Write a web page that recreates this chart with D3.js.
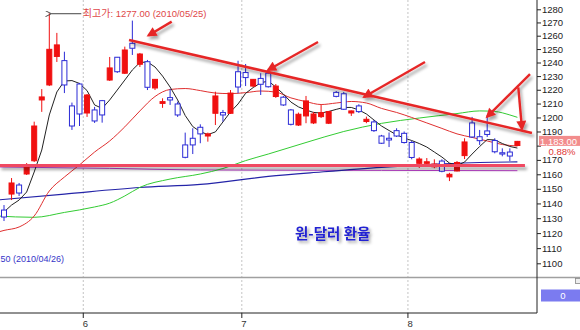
<!DOCTYPE html>
<html>
<head>
<meta charset="utf-8">
<script src="https://cdn.jsdelivr.net/npm/d3@7"></script>
<style>
body { margin: 0; background: #fff; }
svg { display: block; font-family: "Liberation Sans", Arial, "Noto Sans CJK KR", sans-serif; }
</style>
</head>
<body>
<div id="vis"></div>
<script>
// frame constants
const FRAME_WIDTH = 580;
const FRAME_HEIGHT = 330;
const AXIS_X = 537;
const PANEL_BOTTOM = 277.5;
const SUB_BOTTOM = 313;

// trading days
const dates = [
  "2010-05-14","2010-05-17","2010-05-18","2010-05-19","2010-05-20","2010-05-24","2010-05-25",
  "2010-05-26","2010-05-27","2010-05-28","2010-05-31",
  "2010-06-01","2010-06-03","2010-06-04","2010-06-07","2010-06-08","2010-06-09","2010-06-10",
  "2010-06-11","2010-06-14","2010-06-15","2010-06-16","2010-06-17","2010-06-18","2010-06-21",
  "2010-06-22","2010-06-23","2010-06-24","2010-06-25","2010-06-28","2010-06-29","2010-06-30",
  "2010-07-01","2010-07-02","2010-07-05","2010-07-06","2010-07-07","2010-07-08","2010-07-09",
  "2010-07-12","2010-07-13","2010-07-14","2010-07-15","2010-07-16","2010-07-19","2010-07-20",
  "2010-07-21","2010-07-22","2010-07-23","2010-07-26","2010-07-27","2010-07-28","2010-07-29",
  "2010-07-30",
  "2010-08-02","2010-08-03","2010-08-04","2010-08-05","2010-08-06","2010-08-09","2010-08-10",
  "2010-08-11","2010-08-12","2010-08-13","2010-08-16","2010-08-17","2010-08-18","2010-08-19",
  "2010-08-20"
];

// daily prices (won per dollar)
const open = [1135.5,1146.4,1152.6,1160.2,1169.4,1212.6,1223.5,1244.5,1241.4,1208.3,
  1224.2,1203.2,1205.4,1212.1,1227.1,1243.9,1232.1,1254.3,1238.7,1240.6,
  1221.3,1210.1,1214.3,1209.7,1180.5,1185.2,1193.0,1186.8,1203.0,1203.5,
  1203.0,1233.2,1232.6,1222.7,1228.3,1232.1,1215.1,1214.6,1205.4,1194.6,
  1201.1,1196.1,1200.6,1195.9,1218.1,1217.1,1203.2,1208.3,1197.1,1196.8,
  1186.8,1185.2,1190.6,1188.7,1182.2,1167.6,1167.6,1165.2,1169.2,1158.2,
  1162.3,1173.0,1196.1,1186.3,1190.4,1183.6,1175.0,1175.5,1180.1];
const high = [1138.9,1157.4,1154.0,1167.8,1197.0,1220.5,1277.0,1262.1,1248.0,1210.7,
  1225.0,1216.9,1207.6,1212.6,1244.1,1244.1,1251.8,1271.4,1247.1,1241.9,
  1227.8,1213.8,1220.5,1211.4,1189.2,1192.3,1195.1,1189.2,1218.6,1205.4,
  1219.8,1241.3,1238.9,1227.8,1232.1,1233.8,1224.2,1215.5,1206.1,1203.5,
  1215.5,1204.0,1209.0,1204.7,1219.1,1218.4,1205.0,1209.5,1200.6,1198.2,
  1187.6,1189.3,1192.3,1190.0,1183.3,1171.8,1171.3,1170.4,1170.4,1161.0,
  1169.2,1185.2,1200.4,1191.1,1200.8,1185.2,1178.1,1178.1,1183.3];
const low = [1128.1,1142.3,1145.1,1159.5,1168.5,1204.0,1222.7,1240.4,1217.6,1191.1,
  1193.9,1200.4,1196.1,1196.3,1226.4,1232.3,1231.5,1245.6,1236.7,1219.8,
  1219.8,1206.9,1209.0,1200.4,1171.1,1174.1,1181.7,1182.8,1194.6,1197.0,
  1202.5,1217.5,1222.7,1222.0,1216.2,1221.6,1214.1,1208.3,1194.3,1193.9,
  1195.9,1195.3,1199.6,1195.3,1214.5,1205.4,1201.1,1203.2,1195.9,1189.7,
  1181.2,1179.0,1186.1,1181.5,1170.4,1164.4,1166.5,1164.2,1161.4,1155.3,
  1162.0,1170.6,1185.4,1180.5,1186.1,1174.6,1172.5,1169.2,1179.7];
const close = [1130.8,1154.0,1147.1,1165.1,1193.9,1214.8,1249.8,1253.1,1223.5,1193.9,
  1202.5,1216.2,1197.5,1201.8,1236.0,1233.2,1249.3,1250.6,1246.3,1221.8,
  1227.6,1211.4,1212.6,1201.8,1171.8,1180.5,1188.3,1188.3,1215.5,1201.8,
  1217.6,1222.0,1228.9,1227.6,1224.0,1222.2,1222.7,1209.0,1195.1,1202.3,
  1211.9,1202.5,1203.5,1204.2,1215.2,1205.9,1204.7,1204.2,1198.7,1190.6,
  1181.7,1184.0,1186.8,1182.2,1171.7,1170.6,1168.7,1167.1,1162.1,1160.0,
  1168.2,1182.6,1186.1,1183.5,1187.9,1175.7,1174.1,1172.7,1183.0];

// moving averages
const ma5 = [1134.2,1138.9,1142.3,1147.8,1161.6,1176.9,1201.8,1218.4,1226.4,1226.7,
  1224.6,1219.4,1209.0,1206.5,1212.6,1219.8,1227.1,1234.5,1240.0,1240.4,
  1236.7,1230.0,1222.0,1212.6,1201.4,1193.5,1189.9,1187.8,1189.7,1196.8,
  1204.0,1209.7,1217.4,1221.6,1225.0,1226.4,1222.0,1216.9,1211.1,1207.6,
  1205.4,1203.6,1203.2,1204.3,1205.8,1207.2,1207.2,1205.4,1202.5,1198.2,
  1193.9,1190.7,1187.6,1185.4,1183.6,1181.5,1179.0,1175.5,1172.0,1167.8,
  1166.1,1168.5,1174.1,1179.4,1184.3,1184.0,1181.5,1179.4,1178.3];
// [day index, value]
const ma20 = [[-1,1120.4],[0,1121.8],[2,1124.1],[4,1131.5],[6,1148.5],[8,1158.1],[10,1166.5],
  [12,1175.5],[14,1183.3],[16,1193.3],[18,1204.7],[20,1215.1],[22,1220.2],[24,1220.9],
  [26,1219.4],[28,1217.6],[30,1217.2],[32,1217.9],[34,1219.1],[36,1218.3],[38,1214.1],
  [40,1211.4],[42,1209.3],[44,1210.4],[46,1211.5],[48,1210.4],[50,1206.5],[52,1203.6],
  [54,1200.0],[56,1196.1],[58,1192.2],[60,1188.3],[62,1185.8],[64,1183.3],[66,1180.8],
  [68,1179.7]];
const ma60 = [[-1,1131.5],[4,1130.6],[8,1133.9],[12,1137.6],[14,1140.2],[16,1145.1],
  [18,1151.0],[22,1156.7],[26,1160.2],[29,1164.0],[32,1169.5],[35,1174.1],[40,1182.2],
  [45,1190.0],[50,1195.8],[55,1199.6],[60,1202.8],[63,1204.7],[65,1204.3],[67,1201.8],
  [68,1200.1]];
const ma120 = [[-1,1142.3],[8,1146.4],[18,1150.9],[26,1153.0],[35,1158.5],[42,1161.6],
  [50,1164.8],[58,1167.2],[63,1168.2],[68,1168.6]];
const ma240 = [[-1,1165.1],[14,1164.1],[26,1163.0],[50,1162.7],[68,1162.5]];

// y axis ticks
const yTicks = [1100,1110,1120,1130,1140,1150,1160,1170,1180,1190,1200,
  1210,1220,1230,1240,1250,1260,1270,1280];

// hand drawn lines: [day index, value]
const supportLine = [[-0.6,1166.1],[69.0,1166.1]];
const trendLine = [[16.56,1256.8],[69.93,1189.0]];
const arrows = [
  [[22.21,1270.6],[19.11,1260.1]],
  [[41.59,1255.3],[34.97,1234.5]],
  [[55.76,1240.4],[47.68,1214.8]],
  [[69.67,1231.5],[63.97,1200.4]],
  [[68.12,1221.8],[68.61,1191.8]]
];
const lowPrice = 1104.50, lowDate = "2010/04/26";
const changePct = "0.88%";

// frame
const svg = d3.select("#vis").append("svg")
  .attr("width", FRAME_WIDTH)
  .attr("height", FRAME_HEIGHT);

const defs = svg.append("defs");
defs.append("clipPath").attr("id", "plot")
  .append("rect").attr("x", 0).attr("y", 0)
  .attr("width", AXIS_X).attr("height", PANEL_BOTTOM);
const shadow = defs.append("filter").attr("id", "shadow")
  .attr("filterUnits", "userSpaceOnUse")
  .attr("x", 0).attr("y", 0).attr("width", FRAME_WIDTH).attr("height", FRAME_HEIGHT);
shadow.append("feDropShadow").attr("dx", 2).attr("dy", 3)
  .attr("stdDeviation", 1.6).attr("flood-color", "#000").attr("flood-opacity", 0.35);
const textShadow = defs.append("filter").attr("id", "tshadow")
  .attr("filterUnits", "userSpaceOnUse")
  .attr("x", 0).attr("y", 0).attr("width", FRAME_WIDTH).attr("height", FRAME_HEIGHT);
textShadow.append("feDropShadow").attr("dx", 2).attr("dy", 2)
  .attr("stdDeviation", 1.5).attr("flood-color", "#000").attr("flood-opacity", 0.4);
defs.append("marker").attr("id", "head")
  .attr("markerUnits", "userSpaceOnUse")
  .attr("viewBox", "0 0 10 10")
  .attr("markerWidth", 11).attr("markerHeight", 10)
  .attr("refX", 8).attr("refY", 5)
  .attr("orient", "auto")
  .append("path").attr("d", "M0,0L10,5L0,10z").attr("fill", "#e62828");
defs.append("marker").attr("id", "grayhead")
  .attr("markerUnits", "userSpaceOnUse")
  .attr("viewBox", "0 0 10 10")
  .attr("markerWidth", 6).attr("markerHeight", 6)
  .attr("refX", 1).attr("refY", 5)
  .attr("orient", "auto")
  .append("path").attr("d", "M10,0L0,5L10,10").attr("fill", "none").attr("stroke", "#444").attr("stroke-width", 1.6);

// scales
const X_SCALE = d3.scaleLinear()
  .domain([0, dates.length - 1])
  .range([4, 517.4]);
const Y_SCALE = d3.scaleLog()
  .domain([1280, 1100])
  .range([9.3, 263.3]);

// month boundaries
const monthStarts = dates
  .map((d, i) => ({d: d, i: i}))
  .filter((o, i) => i > 0 && o.d.slice(5, 7) !== dates[i - 1].slice(5, 7));

// gridlines
svg.append("g").selectAll("line")
  .data(monthStarts)
  .enter().append("line")
    .attr("x1", (d) => X_SCALE(d.i - 0.5))
    .attr("x2", (d) => X_SCALE(d.i - 0.5))
    .attr("y1", 0).attr("y2", SUB_BOTTOM)
    .attr("stroke", "#c4c4c4")
    .attr("stroke-dasharray", "2,2");

const plot = svg.append("g").attr("clip-path", "url(#plot)");

// moving average lines
const pairLine = d3.line()
  .x((d) => X_SCALE(d[0]))
  .y((d) => Y_SCALE(d[1]))
  .curve(d3.curveMonotoneX);

plot.append("path").datum(ma240).attr("d", pairLine)
  .attr("fill", "none").attr("stroke", "#c040d0").attr("stroke-width", 1);
plot.append("path").datum(ma120).attr("d", pairLine)
  .attr("fill", "none").attr("stroke", "#2424a8").attr("stroke-width", 1.2);
plot.append("path").datum(ma60).attr("d", pairLine)
  .attr("fill", "none").attr("stroke", "#33cc33").attr("stroke-width", 1);
plot.append("path").datum(ma20).attr("d", pairLine)
  .attr("fill", "none").attr("stroke", "#e03030").attr("stroke-width", 1);
plot.append("path").datum(ma5)
  .attr("d", d3.line().x((d, i) => X_SCALE(i)).y((d) => Y_SCALE(d)))
  .attr("fill", "none").attr("stroke", "#222").attr("stroke-width", 1);

// candles
const UP = "#f01010";
const DOWN = "#2b2bd6";
const candles = plot.append("g").selectAll("g")
  .data(dates)
  .enter().append("g");

candles.append("line")
  .attr("x1", (d, i) => X_SCALE(i))
  .attr("x2", (d, i) => X_SCALE(i))
  .attr("y1", (d, i) => Y_SCALE(high[i]))
  .attr("y2", (d, i) => Y_SCALE(low[i]))
  .attr("stroke", (d, i) => close[i] >= open[i] ? UP : DOWN)
  .attr("stroke-width", 1);

candles.append("rect")
  .attr("x", (d, i) => X_SCALE(i) - 2.5)
  .attr("width", 5)
  .attr("y", (d, i) => Y_SCALE(Math.max(open[i], close[i])))
  .attr("height", (d, i) => Math.max(1, Y_SCALE(Math.min(open[i], close[i])) - Y_SCALE(Math.max(open[i], close[i]))))
  .attr("fill", (d, i) => close[i] >= open[i] ? UP : "#fff")
  .attr("stroke", (d, i) => close[i] >= open[i] ? UP : DOWN)
  .attr("stroke-width", 1);

// hand drawn support / trend lines and arrows
const straight = d3.line()
  .x((d) => X_SCALE(d[0]))
  .y((d) => Y_SCALE(d[1]));

const drawn = plot.append("g").attr("filter", "url(#shadow)");
drawn.append("path").datum(supportLine).attr("d", straight)
  .attr("stroke", "#f04a62").attr("stroke-width", 3).attr("fill", "none");
drawn.append("path").datum(trendLine).attr("d", straight)
  .attr("stroke", "#e62828").attr("stroke-width", 2.6).attr("fill", "none");
drawn.selectAll(".arrow")
  .data(arrows)
  .enter().append("path")
    .attr("class", "arrow")
    .attr("d", straight)
    .attr("stroke", "#e62828").attr("stroke-width", 2.4).attr("fill", "none")
    .attr("marker-end", "url(#head)");

// high / low annotations
const hiIdx = high.indexOf(d3.max(high));
const hx = X_SCALE(hiIdx), hy = Y_SCALE(high[hiIdx]);
svg.append("line")
  .attr("x1", hx + 32).attr("x2", hx + 1.5)
  .attr("y1", hy + 0.5).attr("y2", hy + 0.5)
  .attr("stroke", "#444").attr("stroke-width", 1)
  .attr("marker-end", "url(#grayhead)");
const hiText = svg.append("text")
  .attr("x", hx + 33.5).attr("y", hy + 4)
  .attr("font-size", "9.5px")
  .attr("fill", "#e04848");
hiText.append("tspan").attr("font-size", "10px")
  .attr("font-family", "'Noto Sans CJK KR', sans-serif").text("최고가");
hiText.append("tspan").text(": " + d3.format(".2f")(high[hiIdx]) + " (" + dates[hiIdx].replace(/-/g, "/") + ")");

// low label, its start runs off the left edge as in the original
svg.append("text")
  .attr("x", 64).attr("y", Y_SCALE(lowPrice) + 6)
  .attr("text-anchor", "end")
  .attr("font-size", "9px")
  .attr("fill", "#3535c8")
  .text("최저가: " + d3.format(".2f")(lowPrice) + " (" + lowDate + ")");

// title
svg.append("text")
  .attr("x", 295).attr("y", 239)
  .attr("font-size", "14.5px")
  .attr("font-weight", "bold")
  .attr("font-family", "'Noto Sans CJK KR', sans-serif")
  .attr("fill", "#2323d2")
  .attr("filter", "url(#tshadow)")
  .text("원-달러 환율");

// panel borders
svg.append("line")
  .attr("x1", 0).attr("x2", FRAME_WIDTH)
  .attr("y1", PANEL_BOTTOM).attr("y2", PANEL_BOTTOM)
  .attr("stroke", "#a0a0a0").attr("stroke-width", 1.6);
svg.append("line")
  .attr("x1", 0).attr("x2", AXIS_X)
  .attr("y1", SUB_BOTTOM).attr("y2", SUB_BOTTOM)
  .attr("stroke", "#222").attr("stroke-width", 1);

// right axis
const last = close.length - 1;
const py = Y_SCALE(close[last]);
const yAxis = svg.append("g")
  .attr("transform", "translate(" + AXIS_X + ",0)")
  .call(d3.axisRight(Y_SCALE).tickValues(yTicks).tickFormat(d3.format("d")).tickSize(4).tickPadding(1));
yAxis.select(".domain").remove();
yAxis.selectAll("text").attr("font-size", "9.5px").attr("fill", "#222")
  .attr("font-family", "'Liberation Sans', Arial, sans-serif");
yAxis.selectAll("line").attr("stroke", "#222");
// the price box covers the label under it
yAxis.selectAll(".tick")
  .filter((d) => Math.abs(Y_SCALE(d) - py) < 7)
  .select("text").remove();
svg.append("line")
  .attr("x1", AXIS_X).attr("x2", AXIS_X)
  .attr("y1", 0).attr("y2", SUB_BOTTOM)
  .attr("stroke", "#222").attr("stroke-width", 1);

// current price box
svg.append("rect")
  .attr("x", AXIS_X + 2).attr("y", py - 5.5)
  .attr("width", FRAME_WIDTH - AXIS_X - 2).attr("height", 10)
  .attr("fill", "#f28c8c");
svg.append("text")
  .attr("x", AXIS_X + 3).attr("y", py + 3.5)
  .attr("font-size", "9.5px").attr("fill", "#fff")
  .text(d3.format(",.2f")(close[last]));
svg.append("rect")
  .attr("x", AXIS_X + 6).attr("y", py + 5.5)
  .attr("width", 34).attr("height", 9.5)
  .attr("fill", "#fff");
svg.append("text")
  .attr("x", 562).attr("y", py + 13.5)
  .attr("text-anchor", "middle")
  .attr("font-size", "9.5px").attr("fill", "#e03838")
  .text(changePct);

// lower panel value
svg.append("rect")
  .attr("x", AXIS_X + 4).attr("y", 289.5)
  .attr("width", FRAME_WIDTH - AXIS_X - 4).attr("height", 12)
  .attr("fill", "#7b7bf0");
svg.append("text")
  .attr("x", 563).attr("y", 299)
  .attr("text-anchor", "middle")
  .attr("font-size", "9.5px").attr("fill", "#fff")
  .text("0");
svg.append("rect")
  .attr("x", 575.5).attr("y", 278.5)
  .attr("width", 5).attr("height", 5)
  .attr("fill", "#eee").attr("stroke", "#888").attr("stroke-width", 0.8);

// x axis month labels
svg.append("g").selectAll("line")
  .data(monthStarts)
  .enter().append("line")
    .attr("x1", (d) => X_SCALE(d.i - 0.5))
    .attr("x2", (d) => X_SCALE(d.i - 0.5))
    .attr("y1", SUB_BOTTOM).attr("y2", SUB_BOTTOM + 5)
    .attr("stroke", "#222");
svg.append("g").selectAll("text")
  .data(monthStarts)
  .enter().append("text")
    .attr("x", (d) => X_SCALE(d.i - 0.5) - 0.5)
    .attr("y", 327)
    .attr("font-size", "9.5px")
    .attr("fill", "#333")
    .text((d) => String(+d.d.slice(5, 7)));
</script>
</body>
</html>
